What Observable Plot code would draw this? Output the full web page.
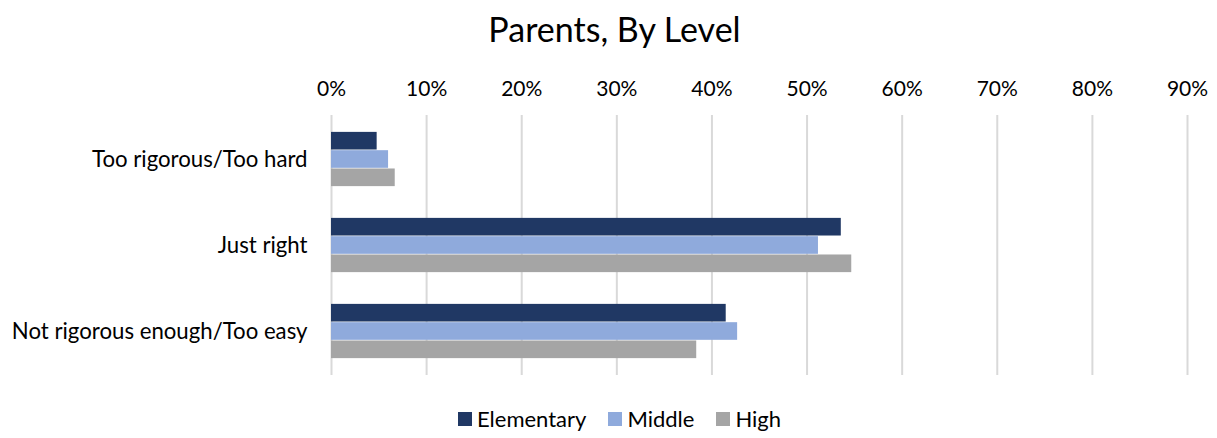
<!DOCTYPE html>
<html>
<head>
<meta charset="utf-8">
<script src="https://cdn.jsdelivr.net/npm/d3@7"></script>
<script src="https://cdn.jsdelivr.net/npm/@observablehq/plot@0.6"></script>
<style>
  html, body { margin: 0; padding: 0; background: #fff; }
  body { width: 1217px; height: 438px; overflow: hidden; font-family: Lato, "Open Sans", sans-serif; color: #000; }
  #title { height: 55px; line-height: 58px; text-align: center; font-size: 34px; padding-left: 12px; }
  #legend { display: flex; justify-content: center; align-items: center; gap: 22px; font-size: 22px; margin-top: 10px; padding-left: 22px; }
  .sw { display: inline-flex; align-items: center; }
  .sw i { display: inline-block; width: 14px; height: 14px; margin-right: 5px; }
</style>
</head>
<body>
<div id="title">Parents, By Level</div>
<div id="chart"></div>
<div id="legend"></div>
<script>
const categories = ["Too rigorous/Too hard", "Just right", "Not rigorous enough/Too easy"];
const seriesNames = ["Elementary", "Middle", "High"];
const seriesColors = ["#203864", "#8faadc", "#a5a5a5"];
const elementary = [4.8, 53.6, 41.5];
const middle = [6.0, 51.2, 42.7];
const high = [6.7, 54.7, 38.4];
const xTicks = [0, 10, 20, 30, 40, 50, 60, 70, 80, 90];

const seriesValues = [elementary, middle, high];
const data = [];
seriesNames.forEach((s, si) => categories.forEach((c, ci) => data.push({category: c, series: s, value: seriesValues[si][ci] / 100})));

const height = 340, marginTop = 60, marginBottom = 20;
const step = (height - marginTop - marginBottom) / categories.length;
const barH = 18.3;
const inset = (step - barH) / 2;
const offsets = [-barH, 0, barH];

const marks = [
  Plot.gridX(xTicks.map(d => d / 100), {stroke: "#d9d9d9", strokeOpacity: 1, strokeWidth: 2}),
  Plot.axisX(xTicks.map(d => d / 100), {anchor: "top", tickSize: 0, tickPadding: 20, tickFormat: d => Math.round(d * 100) + "%", fontSize: 21, label: null}),
  Plot.axisY({tickSize: 0, tickPadding: 24, fontSize: 22.2, label: null}),
  ...seriesNames.map((s, i) => Plot.barX(data.filter(d => d.series === s), {
    x: "value", y: "category", fill: seriesColors[i], dy: offsets[i], insetTop: inset, insetBottom: inset
  }))
];

const chart = Plot.plot({
  width: 1217, height, marginLeft: 331, marginRight: 30, marginTop, marginBottom,
  style: {fontFamily: "Lato, 'Open Sans', sans-serif", color: "#000", background: "#fff"},
  x: {domain: [0, 0.9]},
  y: {domain: categories, padding: 0},
  marks
});
document.getElementById("chart").appendChild(chart);

const legend = document.getElementById("legend");
seriesNames.forEach((s, i) => {
  const el = document.createElement("span");
  el.className = "sw";
  el.innerHTML = `<i style="background:${seriesColors[i]}"></i>${s}`;
  legend.appendChild(el);
});
</script>
</body>
</html>
